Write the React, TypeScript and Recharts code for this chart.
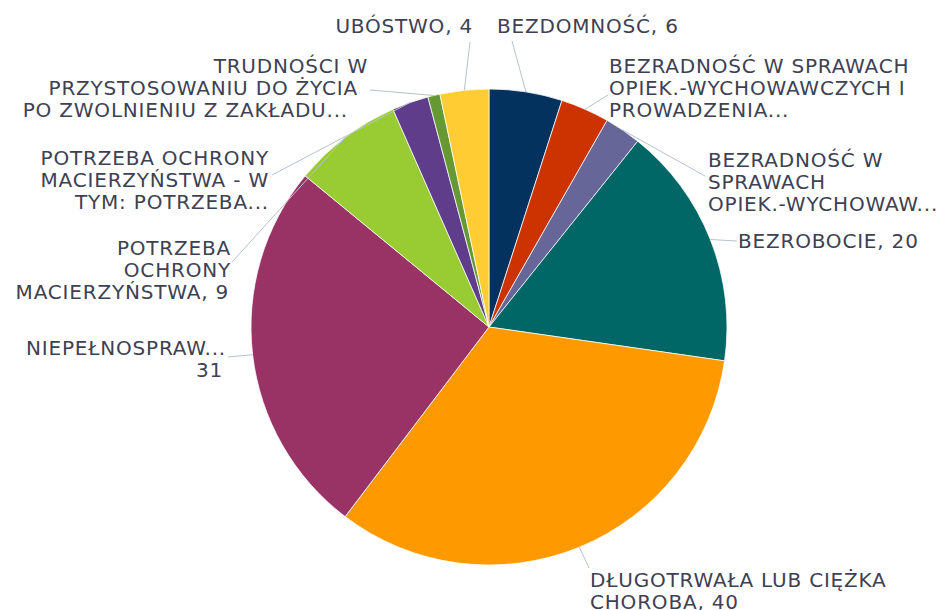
import React from 'react';
import { PieChart, Pie, Cell } from 'recharts';

const CATEGORIES = [
  'BEZDOMNOŚĆ',
  'BEZRADNOŚĆ W SPRAWACH OPIEK.-WYCHOWAWCZYCH I PROWADZENIA GOSPODARSTWA DOMOWEGO',
  'BEZRADNOŚĆ W SPRAWACH OPIEK.-WYCHOWAWCZYCH',
  'BEZROBOCIE',
  'DŁUGOTRWAŁA LUB CIĘŻKA CHOROBA',
  'NIEPEŁNOSPRAWNOŚĆ',
  'POTRZEBA OCHRONY MACIERZYŃSTWA',
  'POTRZEBA OCHRONY MACIERZYŃSTWA - W TYM: POTRZEBA OCHRONY MACIERZYŃSTWA',
  'TRUDNOŚCI W PRZYSTOSOWANIU DO ŻYCIA PO ZWOLNIENIU Z ZAKŁADU KARNEGO',
  'UBÓSTWO',
];
const VALUES = [6, 4, 3, 20, 40, 31, 9, 3, 1, 4];
const COLORS = ['#03325f', '#cc3300', '#666699', '#006666', '#ff9900', '#993366', '#99cc33', '#5f3d8b', '#669933', '#ffcc33'];

// label text as shown (wrapped / truncated like the original)
const LABEL_LINES = [
  ['BEZDOMNOŚĆ, 6'],
  ['BEZRADNOŚĆ W SPRAWACH', 'OPIEK.-WYCHOWAWCZYCH I', 'PROWADZENIA...'],
  ['BEZRADNOŚĆ W', 'SPRAWACH', 'OPIEK.-WYCHOWAW...'],
  ['BEZROBOCIE, 20'],
  ['DŁUGOTRWAŁA LUB CIĘŻKA', 'CHOROBA, 40'],
  ['NIEPEŁNOSPRAW...', '31'],
  ['POTRZEBA', 'OCHRONY', 'MACIERZYŃSTWA, 9'],
  ['POTRZEBA OCHRONY', 'MACIERZYŃSTWA - W', 'TYM: POTRZEBA...'],
  ['TRUDNOŚCI W', 'PRZYSTOSOWANIU DO ŻYCIA', 'PO ZWOLNIENIU Z ZAKŁADU...'],
  ['UBÓSTWO, 4'],
];

const chartData = CATEGORIES.map((name, i) => ({ name, value: VALUES[i] }));

// where each label sits: leader end (lx, ly), text x, first baseline, anchor, per-line x shift
type LabelPos = { lx: number; ly: number; tx: number; ty: number; anchor: 'start' | 'end'; shift?: number[] };
const LABEL_LAYOUT: LabelPos[] = [
  { lx: 512, ly: 41, tx: 497, ty: 33, anchor: 'start' },
  { lx: 608, ly: 95, tx: 609, ty: 73, anchor: 'start' },
  { lx: 705, ly: 176, tx: 708, ty: 167, anchor: 'start' },
  { lx: 737, ly: 241, tx: 738, ty: 248, anchor: 'start' },
  { lx: 589, ly: 568, tx: 590, ty: 587, anchor: 'start' },
  { lx: 228, ly: 357, tx: 226, ty: 355, anchor: 'end', shift: [0, -3] },
  { lx: 232, ly: 262, tx: 231, ty: 255, anchor: 'end', shift: [0, 0, -2] },
  { lx: 272, ly: 175, tx: 269, ty: 165, anchor: 'end' },
  { lx: 370, ly: 90, tx: 368, ty: 73, anchor: 'end', shift: [0, -10, -20] },
  { lx: 470, ly: 42, tx: 473, ty: 33, anchor: 'end' },
];

const RADIAN = Math.PI / 180;
const LINE_HEIGHT = 22;

function renderLabel(props: any) {
  const { cx, cy, midAngle, outerRadius, index } = props;
  const pos = LABEL_LAYOUT[index];
  const ex = cx + outerRadius * Math.cos(-midAngle * RADIAN);
  const ey = cy + outerRadius * Math.sin(-midAngle * RADIAN);
  return (
    <g key={`lbl-${index}`}>
      <line x1={ex} y1={ey} x2={pos.lx} y2={pos.ly} stroke="#b7c1cf" strokeWidth={1} />
      <text
        textAnchor={pos.anchor}
        fill="#3d4153"
        fontSize={20}
        letterSpacing={0.8}
        fontFamily="'DejaVu Sans', sans-serif"
      >
        {LABEL_LINES[index].map((line, i) => (
          <tspan key={i} x={pos.tx + (pos.shift?.[i] ?? 0)} y={pos.ty + i * LINE_HEIGHT}>{line}</tspan>
        ))}
      </text>
    </g>
  );
}

export default function App() {
  return (
    <div style={{ position: 'absolute', left: 0, top: 0, width: 947, height: 610, background: '#fff' }}>
      <PieChart width={947} height={610} margin={{ top: 0, right: 0, bottom: 0, left: 0 }}>
        <Pie
          data={chartData}
          dataKey="value"
          nameKey="name"
          cx={489}
          cy={327}
          outerRadius={238}
          startAngle={90}
          endAngle={-270}
          stroke="#ffffff"
          strokeWidth={0.75}
          label={renderLabel}
          labelLine={false}
          isAnimationActive={false}
        >
          {chartData.map((d, i) => <Cell key={d.name} fill={COLORS[i]} />)}
        </Pie>
      </PieChart>
    </div>
  );
}
